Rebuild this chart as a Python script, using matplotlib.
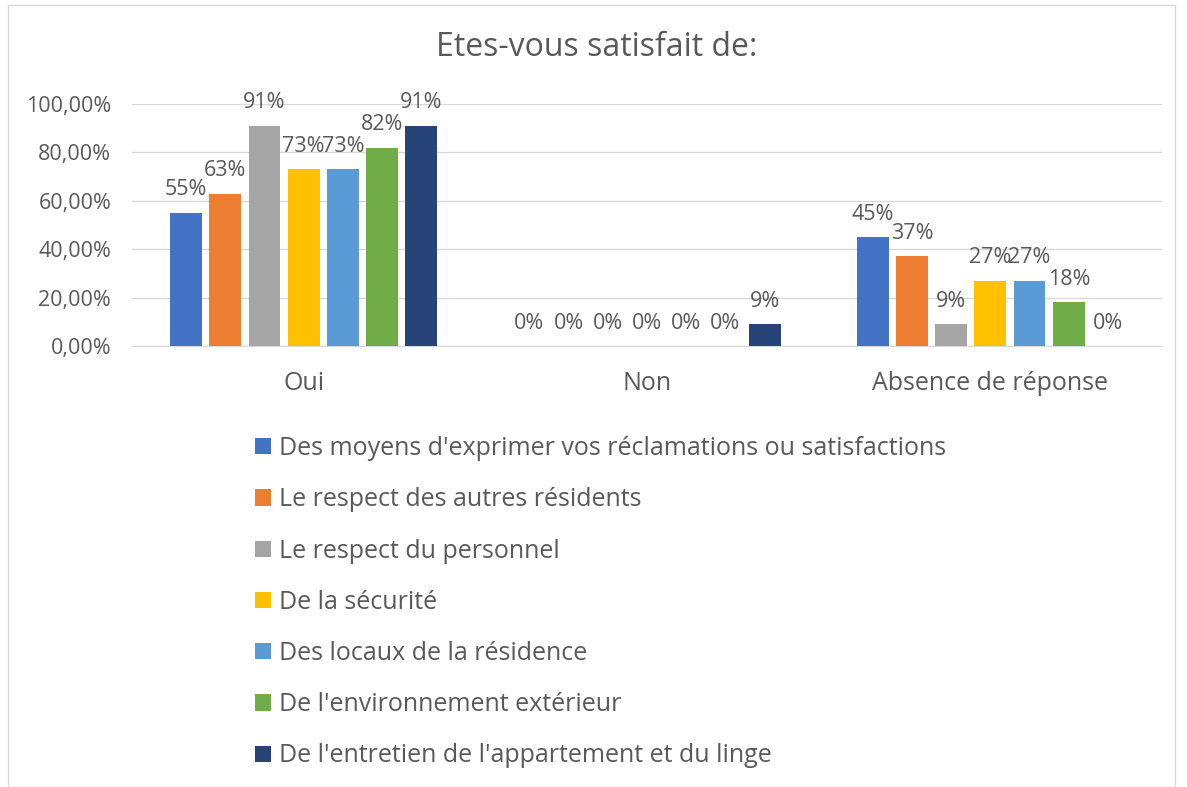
import numpy as np
import matplotlib.pyplot as plt
from matplotlib.patches import Rectangle

plt.rcParams['font.family'] = ['Open Sans', 'DejaVu Sans']

categories = ["Oui", "Non", "Absence de réponse"]
series = ["Des moyens d'exprimer vos réclamations ou satisfactions",
          "Le respect des autres résidents",
          "Le respect du personnel",
          "De la sécurité",
          "Des locaux de la résidence",
          "De l'environnement extérieur",
          "De l'entretien de l'appartement et du linge"]
# values in %, one list per series (Oui, Non, Absence)
moyens = [55, 0, 45]
autres_residents = [63, 0, 37]
personnel = [91, 0, 9]
securite = [73, 0, 27]
locaux = [73, 0, 27]
environnement = [82, 0, 18]
entretien = [91, 9, 0]
values = [moyens, autres_residents, personnel, securite, locaux, environnement, entretien]
colors = ["#4472C4", "#ED7D31", "#A5A5A5", "#FFC000", "#5B9BD5", "#70AD47", "#264478"]
yticks = [0, 20, 40, 60, 80, 100]
ytick_labels = ["0,00%", "20,00%", "40,00%", "60,00%", "80,00%", "100,00%"]

txt = "#595959"
fig = plt.figure(figsize=(11.87, 7.87), dpi=100)
fig.patches.append(Rectangle((8/1187, 0), 1167/1187, 1 - 5/787, transform=fig.transFigure,
                             fill=False, edgecolor="#D9D9D9", linewidth=1))
ax = fig.add_axes([132/1187, 1 - 346/787, 1030/1187, 242/787])

n = len(series)
x = np.arange(len(categories))
slot = 0.8 / n
for i in range(n):
    pos = x - 0.4 + slot * (i + 0.5)
    bars = ax.bar(pos, values[i], width=slot * 0.81, color=colors[i], label=series[i], zorder=3)
    for b, v in zip(bars, values[i]):
        ax.annotate("%d%%" % v, (b.get_x() + b.get_width() / 2, v), xytext=(0, 9),
                    textcoords="offset points", ha="center", va="bottom",
                    fontsize=15.5, color=txt)

ax.set_xlim(-0.5, len(categories) - 0.5)
ax.set_ylim(0, 100)
ax.set_yticks(yticks)
ax.set_yticklabels(ytick_labels)
ax.set_xticks(x)
ax.set_xticklabels(categories)
ax.tick_params(axis="y", length=0, labelsize=15.5, colors=txt, pad=15)
ax.tick_params(axis="x", length=0, labelsize=18, colors=txt, pad=18)
ax.grid(axis="y", color="#D9D9D9", linewidth=1, zorder=0)
for s in ["top", "right", "left"]:
    ax.spines[s].set_visible(False)
ax.spines["bottom"].set_color("#D9D9D9")
fig.text(0.503, 1 - 48/787, "Etes-vous satisfait de:", fontsize=23, color=txt,
         ha="center", va="center")

leg = fig.legend(loc="upper left", bbox_to_anchor=(245/1187, 1 - 426/787), frameon=False,
                 fontsize=18, handlelength=0.62, handleheight=0.62, handletextpad=0.35,
                 labelspacing=1.05, borderaxespad=0)
for t in leg.get_texts():
    t.set_color(txt)

fig.savefig("out.png", dpi=100)
